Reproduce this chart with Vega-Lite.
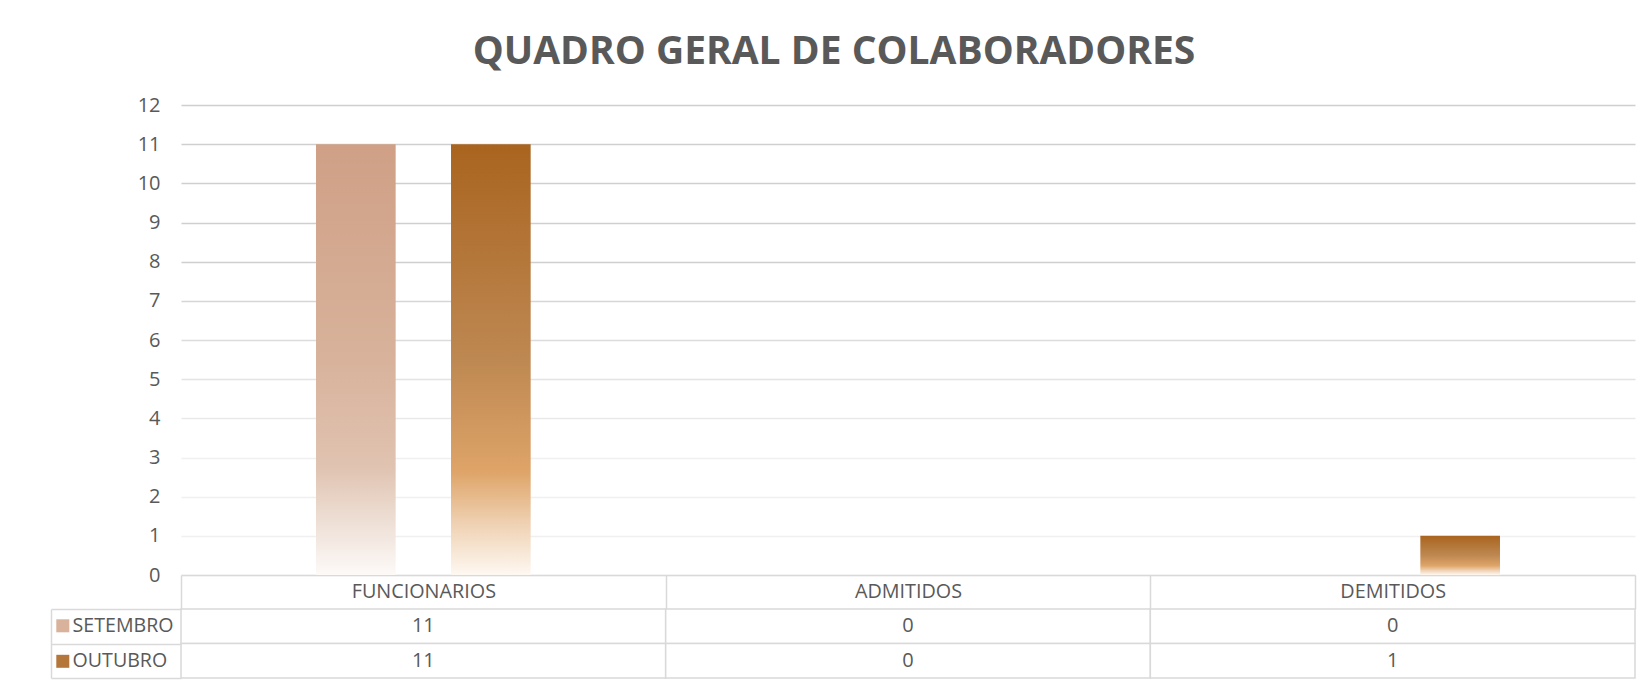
{
  "$schema": "https://vega.github.io/schema/vega-lite/v6.json",
  "background": "white",
  "padding": {"left": 50, "top": 33, "right": 17, "bottom": 9},
  "bounds": "flush",
  "spacing": 34,
  "title": {"text": "QUADRO GERAL DE COLABORADORES", "font": "Open Sans", "fontSize": 39, "fontWeight": "bold", "color": "#595959", "anchor": "middle", "offset": 23, "dx": -9},
  "config": {"view": {"stroke": null}, "font": "Open Sans"},
  "datasets": {
    "tabela": [
      {"categoria": "FUNCIONARIOS", "mes": "SETEMBRO", "valor": 11},
      {"categoria": "FUNCIONARIOS", "mes": "OUTUBRO", "valor": 11},
      {"categoria": "ADMITIDOS", "mes": "SETEMBRO", "valor": 0},
      {"categoria": "ADMITIDOS", "mes": "OUTUBRO", "valor": 0},
      {"categoria": "DEMITIDOS", "mes": "SETEMBRO", "valor": 0},
      {"categoria": "DEMITIDOS", "mes": "OUTUBRO", "valor": 1}
    ]
  },
  "vconcat": [
    {
      "width": 1454,
      "height": 470,
      "data": {"name": "tabela"},
      "encoding": {
        "x": {"field": "categoria", "type": "nominal", "sort": ["FUNCIONARIOS", "ADMITIDOS", "DEMITIDOS"],
          "scale": {"paddingInner": 0, "paddingOuter": 0},
          "axis": {"orient": "bottom", "title": null, "labelAngle": 0, "tickBand": "extent", "tickSize": 34, "tickColor": "#d9d9d9", "tickWidth": 1.5, "domainColor": "#d9d9d9", "domainWidth": 1.5, "labelPadding": -27.5, "labelFontSize": 19.8, "labelColor": "#595959", "labelFont": "Open Sans"}},
        "xOffset": {"field": "mes", "type": "nominal", "sort": ["SETEMBRO", "OUTUBRO"], "scale": {"domain": ["SETEMBRO", "OUTUBRO"], "paddingInner": 0.41, "paddingOuter": 1.04}},
        "y": {"field": "valor", "type": "quantitative", "scale": {"domain": [0, 12]},
          "axis": {"title": null, "values": [0, 1, 2, 3, 4, 5, 6, 7, 8, 9, 10, 11, 12], "ticks": false, "domain": false, "labelPadding": 21, "labelFontSize": 20, "labelColor": "#595959", "labelFont": "Open Sans",
            "gridWidth": 1.5,
            "gridColor": {"condition": [
              {"test": "datum.value >= 8", "value": "#cfcfcf"},
              {"test": "datum.value >= 7", "value": "#d6d6d6"},
              {"test": "datum.value >= 6", "value": "#dcdcdc"},
              {"test": "datum.value >= 5", "value": "#e3e3e3"},
              {"test": "datum.value >= 4", "value": "#e9e9e9"}
            ], "value": "#f0f0f0"}}}
      },
      "layer": [
        {
          "transform": [{"filter": "datum.mes === 'SETEMBRO'"}],
          "mark": {"type": "bar", "color": {"gradient": "linear", "x1": 0, "y1": 0, "x2": 0, "y2": 1, "stops": [
              {"offset": 0, "color": "#CFA086"}, {"offset": 0.5, "color": "#D8B29B"}, {"offset": 0.75, "color": "#E0C3B1"}, {"offset": 0.88, "color": "#EEE0D6"}, {"offset": 1, "color": "#FDFAF8"}]}}
        },
        {
          "transform": [{"filter": "datum.mes === 'OUTUBRO'"}],
          "mark": {"type": "bar", "color": {"gradient": "linear", "x1": 0, "y1": 0, "x2": 0, "y2": 1, "stops": [
              {"offset": 0, "color": "#A9641F"}, {"offset": 0.5, "color": "#BE8852"}, {"offset": 0.76, "color": "#DEA468"}, {"offset": 0.88, "color": "#EFD1B2"}, {"offset": 1, "color": "#FEF8F2"}]}}
        },
        {
          "mark": {"type": "square", "opacity": 0, "size": 1},
          "encoding": {
            "color": {"field": "mes", "type": "nominal", "sort": ["SETEMBRO", "OUTUBRO"],
              "scale": {"range": ["#D8B29B", "#B5763A"]},
              "legend": {"orient": "none", "legendX": -128, "legendY": 511, "title": null, "symbolType": "square", "symbolSize": 169, "symbolStrokeWidth": 0, "symbolOpacity": 1, "labelFontSize": 19.6, "labelColor": "#595959", "labelFont": "Open Sans", "labelOffset": 0, "rowPadding": 14.5, "padding": 0}}
          }
        }
      ]
    },
    {
      "width": 1454,
      "height": 69,
      "data": {"name": "tabela"},
      "encoding": {
        "x": {"field": "categoria", "type": "nominal", "sort": ["FUNCIONARIOS", "ADMITIDOS", "DEMITIDOS"], "scale": {"paddingInner": 0, "paddingOuter": 0}, "axis": null},
        "y": {"field": "mes", "type": "nominal", "sort": ["SETEMBRO", "OUTUBRO"], "scale": {"paddingInner": 0, "paddingOuter": 0},
          "axis": {"title": null, "offset": 130, "tickSize": -130, "tickBand": "extent", "labels": false, "tickColor": "#d9d9d9", "tickWidth": 1.5, "domainColor": "#d9d9d9", "domainWidth": 1.5}}
      },
      "layer": [
        {"mark": {"type": "rect", "fill": "white", "stroke": "#d9d9d9", "strokeWidth": 1.5}},
        {"mark": {"type": "text", "fontSize": 20, "color": "#595959", "font": "Open Sans"}, "encoding": {"text": {"field": "valor", "type": "quantitative"}}}
      ]
    }
  ]
}
